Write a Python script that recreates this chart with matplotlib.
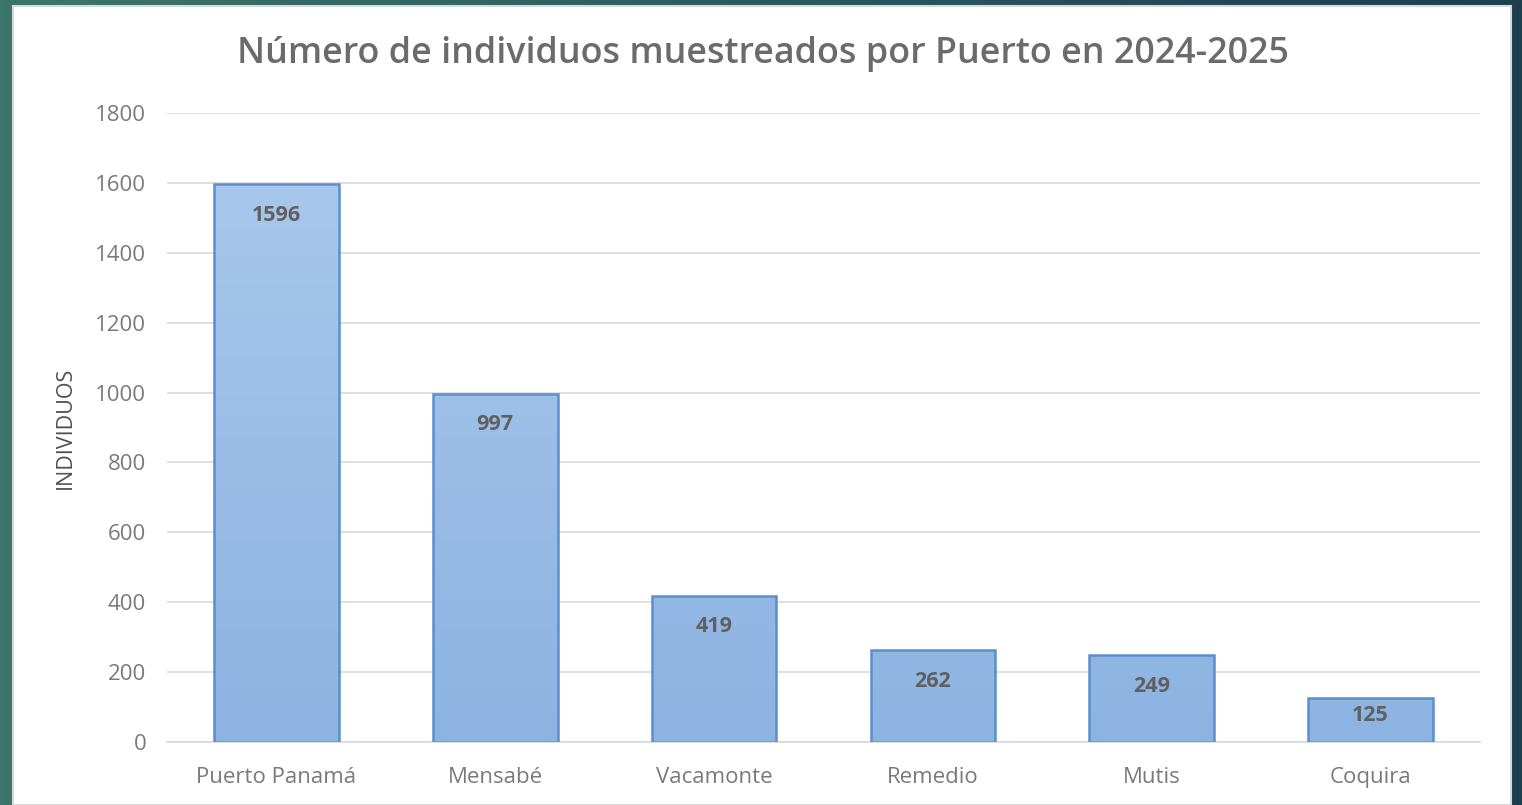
import numpy as np
import matplotlib
matplotlib.use('Agg')
import matplotlib.pyplot as plt
from matplotlib.patches import Rectangle
from matplotlib.colors import LinearSegmentedColormap

puertos = ['Puerto Panamá', 'Mensabé', 'Vacamonte', 'Remedio', 'Mutis', 'Coquira']
individuos = [1596, 997, 419, 262, 249, 125]
yticks = [0, 200, 400, 600, 800, 1000, 1200, 1400, 1600, 1800]

plt.rcParams['font.family'] = ['Open Sans', 'DejaVu Sans']

W, H = 1522, 805
fig = plt.figure(figsize=(W / 100, H / 100), dpi=100)

# teal background with a horizontal gradient
bg = fig.add_axes([0, 0, 1, 1])
bg.set_axis_off()
grad = np.linspace(0, 1, 256).reshape(1, -1)
teal = LinearSegmentedColormap.from_list('teal', ['#3b756b', '#2a5a5e', '#1d3f4f'])
bg.imshow(grad, aspect='auto', cmap=teal, extent=[0, 1, 0, 1])
bg.set_xlim(0, 1)
bg.set_ylim(0, 1)
bg.add_patch(Rectangle((13 / W, 0), (1511 - 13) / W, (H - 6) / H,
                       facecolor='white', edgecolor='#d9d9d9', lw=1.5, zorder=2))

ax = fig.add_axes([167 / W, (H - 742) / H, (1480 - 167) / W, (742 - 113) / H])
ax.set_facecolor('none')
x = np.arange(len(puertos))
bw = 0.57
bars = ax.bar(x, individuos, width=bw, facecolor='none', edgecolor='#5b8fcc', lw=1.8, zorder=3)

barcmap = LinearSegmentedColormap.from_list('bar', ['#8cb3e2', '#abc9ed'])
vgrad = np.linspace(0, 1, 256).reshape(-1, 1)
for b in bars:
    x0 = b.get_x()
    im = ax.imshow(vgrad, cmap=barcmap, origin='lower', aspect='auto',
                   extent=[x0, x0 + b.get_width(), 0, 1800], zorder=2)
    im.set_clip_path(b)

# labels sit ~31px under the bar top, or lower in the middle of short bars
for xi, v in zip(x, individuos):
    off = min(89, 0.39 * v)
    ax.text(xi, v - off, str(v), ha='center', va='center', fontsize=15.5,
            fontweight='bold', color='#606060', zorder=4)

ax.set_xlim(-0.5, len(puertos) - 0.5)
ax.set_ylim(0, 1800)
ax.set_yticks(yticks)
ax.yaxis.grid(True, color='#d9d9d9', lw=1.2, zorder=0)
ax.set_axisbelow(True)
for s in ['top', 'right', 'left']:
    ax.spines[s].set_visible(False)
ax.spines['bottom'].set_color('#d9d9d9')
ax.spines['bottom'].set_linewidth(1.2)
ax.tick_params(axis='both', length=0, labelsize=16, labelcolor='#7a7a7a')
ax.tick_params(axis='y', pad=15)
ax.tick_params(axis='x', pad=18)
ax.set_xticks(x)
ax.set_xticklabels(puertos)
ax.set_ylabel('INDIVIDUOS', fontsize=15.5, color='#505050', labelpad=14)

fig.text(763 / W, 1 - 54 / H, 'Número de individuos muestreados por Puerto en 2024-2025',
         ha='center', va='center', fontsize=25.8, fontweight='semibold', color='#6b6b6b')

fig.savefig('out.png', dpi=100)
